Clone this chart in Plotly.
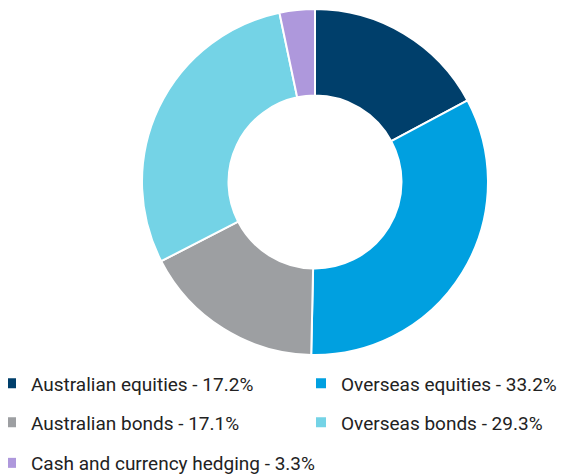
import plotly.graph_objects as go

categories = ["Australian equities", "Overseas equities", "Australian bonds",
              "Overseas bonds", "Cash and currency hedging"]
values = [17.2, 33.2, 17.1, 29.3, 3.3]
colors = ["#003F6B", "#00A0E0", "#9D9FA2", "#74D3E6", "#AE98DC"]

FONT = "Roboto, sans-serif"
W, H = 560, 467
ML, MR, MT, MB = 134, 80, 1, 120
PW = W - ML - MR

fig = go.Figure()
fig.add_trace(go.Pie(
    labels=categories, values=values, sort=False, direction="clockwise",
    rotation=0, hole=0.5, textinfo="none", hoverinfo="label+percent",
    marker=dict(colors=colors, line=dict(color="white", width=2)),
    showlegend=False,
))

# legend entries, two columns, three rows (pixel positions in figure)
col_x = [-17, 293]
row_y = [375.5, 414.5, 455]
for i, (cat, val, col) in enumerate(zip(categories, values, colors)):
    name = f"legend{i+1}" if i else "legend"
    fig.add_trace(go.Scatter(
        x=[None], y=[None], mode="markers", name=f"{cat} - {val}%",
        marker=dict(symbol="square", size=10, color=col),
        legend=name, showlegend=True,
    ))
    fig.update_layout({name: dict(
        x=(col_x[i % 2] - ML) / PW, y=1 - row_y[i // 2] / H, xref="paper", yref="container",
        xanchor="left", yanchor="middle", orientation="h",
        font=dict(family=FONT, size=19, color="#222222"),
        bgcolor="rgba(0,0,0,0)", borderwidth=0,
    )})

fig.update_layout(
    width=W, height=H,
    margin=dict(l=ML, r=MR, t=MT, b=MB, autoexpand=False),
    paper_bgcolor="white", plot_bgcolor="white",
    xaxis=dict(visible=False), yaxis=dict(visible=False),
)
fig.write_html("out.html")
